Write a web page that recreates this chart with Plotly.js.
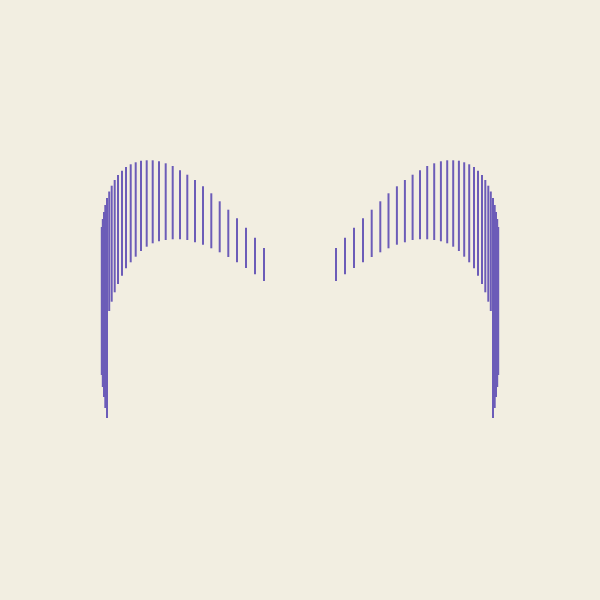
<!DOCTYPE html>
<html>
<head>
<meta charset="utf-8">
<script src="https://cdn.plot.ly/plotly-3.0.1.min.js"></script>
<style>html,body{margin:0;padding:0;background:#f2eee1;}#chart{width:600px;height:600px;}</style>
</head>
<body>
<div id="chart"></div>
<script>
// Left wing: x position, top and bottom of each vertical stroke
var leftX      = [101.8, 102.8, 104.0, 105.3, 107.0, 109.2, 111.7, 114.7, 118.0, 122.0, 126.0, 130.7, 135.7, 141.0, 146.7, 152.7, 159.0, 165.7, 172.7, 180.0, 187.3, 195.0, 203.0, 211.3, 219.7, 228.3, 237.0, 246.0, 255.0, 264.0];
var leftTop    = [227.0, 219.0, 212.0, 205.0, 198.0, 191.5, 185.7, 180.0, 175.0, 170.7, 167.0, 164.3, 162.3, 160.7, 160.3, 160.3, 161.3, 163.3, 166.0, 170.3, 174.7, 180.0, 186.3, 193.3, 201.3, 209.7, 218.3, 227.7, 237.7, 248.0];
var leftBottom = [375.0, 387.0, 397.0, 408.0, 418.0, 311.0, 301.7, 292.3, 284.0, 275.7, 268.3, 262.3, 256.7, 251.0, 246.7, 243.3, 241.3, 240.0, 239.3, 239.3, 240.0, 242.3, 244.7, 248.3, 252.3, 257.0, 262.3, 268.0, 274.3, 281.0];

// Right wing
var rightX      = [336.0, 345.0, 354.0, 363.0, 371.7, 380.3, 388.5, 396.9, 404.9, 412.6, 420.0, 427.2, 434.2, 440.9, 447.2, 453.2, 458.9, 464.2, 469.2, 474.0, 478.0, 482.0, 485.3, 488.3, 490.8, 493.0, 494.7, 496.0, 497.2, 498.2];
var rightTop    = [248.0, 237.7, 227.7, 218.3, 209.7, 201.3, 193.3, 186.3, 180.0, 174.7, 170.3, 166.0, 163.3, 161.3, 160.3, 160.3, 160.7, 162.3, 164.3, 167.0, 170.7, 175.0, 180.0, 185.7, 191.5, 198.0, 205.0, 212.0, 219.0, 227.0];
var rightBottom = [281.0, 274.3, 268.0, 262.3, 257.0, 252.3, 248.3, 244.7, 242.3, 240.0, 239.3, 239.3, 240.0, 241.3, 243.3, 246.7, 251.0, 256.7, 262.3, 268.3, 275.7, 284.0, 292.3, 301.7, 311.0, 418.0, 408.0, 397.0, 387.0, 375.0];

function strokes(xs, tops, bots) {
  var x = [], y = [];
  for (var i = 0; i < xs.length; i++) {
    x.push(xs[i], xs[i], null);
    y.push(tops[i], bots[i], null);
  }
  return {x: x, y: y};
}

var L = strokes(leftX, leftTop, leftBottom);
var R = strokes(rightX, rightTop, rightBottom);
var lineStyle = {color: '#6c5cb8', width: 2};

var data = [
  {type: 'scatter', mode: 'lines', x: L.x, y: L.y, line: lineStyle, hoverinfo: 'skip', showlegend: false, connectgaps: false},
  {type: 'scatter', mode: 'lines', x: R.x, y: R.y, line: lineStyle, hoverinfo: 'skip', showlegend: false, connectgaps: false}
];

var layout = {
  width: 600, height: 600,
  margin: {l: 0, r: 0, t: 0, b: 0},
  paper_bgcolor: '#f2eee1',
  plot_bgcolor: '#f2eee1',
  xaxis: {range: [0, 600], visible: false, fixedrange: true},
  yaxis: {range: [600, 0], visible: false, fixedrange: true},
  showlegend: false
};

Plotly.newPlot('chart', data, layout, {displayModeBar: false, staticPlot: true});
</script>
</body>
</html>
